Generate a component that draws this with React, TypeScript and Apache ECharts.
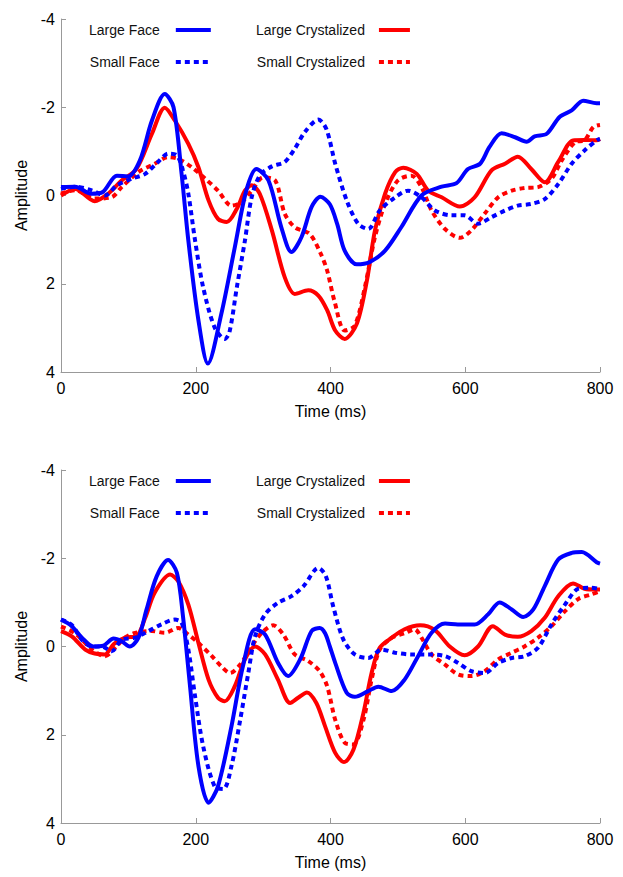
import React, { useEffect, useRef } from "react";
import * as echarts from "echarts";

// ---- Data (time in ms, amplitude) ----
const topLargeFace: number[][] = [[0,-0.19],[21,-0.2],[45,-0.04],[62,-0.08],[83,-0.45],[99,-0.43],[117,-0.79],[135,-1.7],[154,-2.3],[167,-2.0],[179,-0.49],[189,1.02],[204,2.83],[218,3.81],[238,2.68],[258,1.17],[275,-0.11],[290,-0.6],[308,-0.34],[327,0.72],[342,1.28],[357,0.94],[372,0.26],[385,0.03],[399,0.2],[410,0.65],[421,1.25],[439,1.56],[458,1.51],[481,1.25],[505,0.72],[535,0],[565,-0.2],[587,-0.28],[604,-0.6],[622,-0.72],[636,-1.1],[654,-1.41],[674,-1.32],[691,-1.22],[703,-1.34],[721,-1.4],[740,-1.78],[758,-1.93],[775,-2.15],[795,-2.09],[800,-2.09]];
const topLargeCryst: number[][] = [[0,0],[21,-0.15],[50,0.13],[70,-0.04],[90,-0.34],[112,-0.6],[135,-1.4],[154,-1.99],[169,-1.7],[189,-1.17],[204,-0.64],[219,0.11],[233,0.53],[246,0.6],[261,0.3],[273,-0.11],[283,-0.23],[295,-0.04],[313,0.79],[332,1.85],[347,2.23],[367,2.15],[382,2.27],[395,2.6],[407,3.06],[421,3.25],[439,2.91],[454,1.93],[466,0.79],[481,-0.04],[496,-0.53],[508,-0.63],[528,-0.49],[545,-0.11],[565,0.04],[592,0.25],[614,0.04],[639,-0.57],[659,-0.72],[678,-0.88],[698,-0.6],[718,-0.3],[738,-0.76],[760,-1.25],[777,-1.26],[795,-1.25],[800,-1.28]];
const topSmallFace: number[][] = [[0,-0.15],[21,-0.2],[45,-0.12],[65,0],[83,-0.23],[105,-0.38],[125,-0.49],[144,-0.76],[159,-0.95],[172,-0.91],[181,-0.57],[189,-0.04],[199,1.02],[211,2.08],[228,2.99],[243,3.25],[250,3.1],[261,2.08],[273,1.02],[283,0.04],[295,-0.45],[313,-0.66],[332,-0.76],[347,-1.06],[362,-1.44],[382,-1.72],[394,-1.5],[407,-0.72],[424,0.11],[441,0.64],[456,0.76],[473,0.34],[496,0.04],[515,-0.11],[535,0.04],[555,0.34],[580,0.45],[599,0.45],[619,0.64],[639,0.49],[659,0.34],[678,0.23],[698,0.19],[718,0.08],[738,-0.26],[758,-0.72],[777,-1.02],[795,-1.25],[800,-1.28]];
const topSmallCryst: number[][] = [[0,-0.04],[21,-0.12],[50,0.07],[75,0.04],[90,-0.19],[115,-0.53],[139,-0.72],[159,-0.87],[174,-0.83],[194,-0.64],[214,-0.38],[233,-0.11],[253,0.23],[268,0.15],[283,-0.11],[300,-0.41],[318,-0.34],[332,0.41],[347,0.72],[369,0.87],[385,1.3],[395,1.7],[406,2.4],[421,3.06],[436,2.95],[451,2.08],[466,0.94],[481,0.19],[500,-0.34],[520,-0.45],[535,-0.19],[550,0.34],[570,0.76],[592,0.96],[609,0.79],[629,0.41],[649,0.04],[669,-0.11],[688,-0.17],[708,-0.19],[728,-0.38],[743,-0.79],[763,-1.21],[777,-1.25],[790,-1.55],[800,-1.6]];

const botLargeFace: number[][] = [[0,-0.61],[16,-0.46],[31,-0.2],[48,0],[63,-0.02],[78,-0.18],[90,-0.12],[102,0],[115,-0.2],[127,-0.84],[142,-1.59],[159,-1.96],[172,-1.67],[181,-0.69],[191,0.82],[204,2.71],[219,3.54],[233,3.17],[253,1.81],[270,0.45],[288,-0.39],[303,-0.27],[322,0.37],[337,0.67],[355,0.29],[372,-0.35],[384,-0.42],[392,-0.3],[399,0],[407,0.37],[424,1.05],[436,1.14],[456,1.01],[471,0.91],[491,1.01],[510,0.75],[530,0.22],[550,-0.31],[570,-0.52],[589,-0.5],[614,-0.5],[634,-0.73],[651,-1.0],[669,-0.84],[686,-0.67],[701,-0.84],[718,-1.37],[738,-1.97],[758,-2.12],[773,-2.14],[795,-1.91],[800,-1.88]];
const botLargeCryst: number[][] = [[0,-0.35],[16,-0.23],[36,0.07],[50,0.16],[65,0.18],[78,-0.05],[95,-0.2],[112,-0.23],[125,-0.65],[139,-1.22],[162,-1.63],[174,-1.48],[189,-0.95],[204,-0.08],[219,0.75],[233,1.16],[243,1.24],[258,0.9],[273,0.29],[288,0],[303,0.18],[322,0.75],[340,1.28],[352,1.16],[365,1.04],[379,1.28],[392,1.81],[407,2.41],[420,2.62],[434,2.34],[449,1.5],[461,0.6],[473,0.03],[491,-0.2],[510,-0.39],[533,-0.48],[555,-0.37],[577,0],[599,0.2],[619,0],[641,-0.46],[659,-0.27],[678,-0.22],[698,-0.35],[718,-0.65],[738,-1.14],[760,-1.43],[777,-1.31],[795,-1.29],[800,-1.29]];
const botSmallFace: number[][] = [[0,-0.61],[16,-0.49],[31,-0.15],[46,0],[61,0],[75,0.11],[90,-0.15],[110,-0.2],[130,-0.35],[149,-0.5],[169,-0.61],[179,-0.54],[189,0.07],[199,1.13],[211,2.26],[228,3.17],[241,3.23],[253,2.71],[266,1.66],[278,0.6],[288,-0.23],[303,-0.73],[322,-0.99],[342,-1.14],[360,-1.37],[382,-1.78],[393,-1.6],[404,-0.91],[419,-0.16],[436,0.18],[456,0.26],[476,0.07],[496,0.14],[520,0.18],[545,0.18],[570,0.22],[589,0.37],[609,0.56],[629,0.6],[649,0.37],[669,0.26],[688,0.22],[708,0.03],[728,-0.5],[748,-0.95],[768,-1.31],[787,-1.33],[800,-1.3]];
const botSmallCryst: number[][] = [[0,-0.45],[21,-0.3],[46,0.07],[65,0.22],[82,0],[95,-0.2],[110,-0.31],[135,-0.35],[154,-0.31],[174,-0.42],[189,-0.27],[204,-0.08],[224,0.22],[238,0.45],[251,0.6],[266,0.41],[283,0],[298,-0.31],[315,-0.48],[330,-0.27],[347,0.18],[367,0.33],[384,0.56],[395,0.9],[407,1.66],[421,2.18],[434,2.22],[449,1.66],[461,0.75],[473,0.07],[491,-0.2],[510,-0.3],[525,-0.39],[535,-0.2],[550,0.18],[570,0.41],[589,0.63],[609,0.67],[629,0.56],[649,0.29],[669,0.14],[688,0],[708,-0.2],[728,-0.46],[748,-0.8],[768,-1.08],[787,-1.18],[800,-1.25]];

const seriesNames = ["Large Face", "Small Face", "Large Crystalized", "Small Crystalized"];
const xTicks = { min: 0, max: 800, interval: 200 };
const yTicks = { min: -4, max: 4, interval: 2 };

const FONT = "'Liberation Sans', Arial, sans-serif";
const BLUE = "#0000ff";
const RED = "#ff0000";
const DOT = [5, 4];

export default function App() {
  const ref = useRef<HTMLDivElement>(null);
  useEffect(() => {
    if (!ref.current) return;
    const chart = echarts.init(ref.current, undefined, { renderer: "svg" });
    const grids = [
      { left: 61, top: 19, width: 539, height: 353 },
      { left: 61, top: 470, width: 539, height: 353 },
    ];
    const axisLineStyle = { color: "#999", width: 1 };
    const xAxis = grids.map((_, i) => ({
      type: "value",
      gridIndex: i,
      ...xTicks,
      name: "Time (ms)",
      nameLocation: "middle",
      nameGap: 31,
      nameTextStyle: { fontSize: 16, color: "#000", fontFamily: FONT },
      axisLine: { show: true, onZero: false, lineStyle: axisLineStyle },
      axisTick: { show: true, inside: true, length: 5, lineStyle: { color: "#999" } },
      axisLabel: { fontSize: 16, color: "#000", fontFamily: FONT, margin: 8 },
      splitLine: { show: false },
    }));
    const yAxis = grids.map((_, i) => ({
      type: "value",
      gridIndex: i,
      inverse: true,
      ...yTicks,
      name: "Amplitude",
      nameLocation: "middle",
      nameGap: 31,
      nameTextStyle: { fontSize: 16, color: "#000", fontFamily: FONT },
      axisLine: { show: true, onZero: false, lineStyle: axisLineStyle },
      axisTick: { show: true, inside: true, length: 5, lineStyle: { color: "#999" } },
      axisLabel: { fontSize: 16, color: "#000", fontFamily: FONT, margin: 6 },
      splitLine: { show: false },
    }));
    const mk = (name: string, data: number[][], gi: number, color: string, dotted: boolean) => ({
      type: "line",
      name,
      xAxisIndex: gi,
      yAxisIndex: gi,
      data,
      smooth: 0.3,
      symbol: "none",
      lineStyle: { color, width: 4, type: dotted ? DOT : "solid", cap: "butt" },
      itemStyle: { color },
    });
    const series = [
      mk(seriesNames[3], topSmallCryst, 0, RED, true),
      mk(seriesNames[2], topLargeCryst, 0, RED, false),
      mk(seriesNames[1], topSmallFace, 0, BLUE, true),
      mk(seriesNames[0], topLargeFace, 0, BLUE, false),
      mk(seriesNames[3], botSmallCryst, 1, RED, true),
      mk(seriesNames[2], botLargeCryst, 1, RED, false),
      mk(seriesNames[1], botSmallFace, 1, BLUE, true),
      mk(seriesNames[0], botLargeFace, 1, BLUE, false),
    ];
    const legendBase = {
      orient: "vertical",
      align: "right",
      padding: 0,
      itemGap: 18,
      itemHeight: 14,
      selectedMode: false,
      lineStyle: { width: 4 },
      itemStyle: { opacity: 0, borderWidth: 0 },
      textStyle: { fontSize: 14, color: "#111", fontFamily: FONT },
    };
    const legend = [23, 474].flatMap((top) => [
      { ...legendBase, left: 89, top, itemWidth: 35, data: [seriesNames[0], seriesNames[1]],
        textStyle: { ...legendBase.textStyle, padding: [0, 11, 0, 0] } },
      { ...legendBase, left: 256, top, itemWidth: 31, data: [seriesNames[2], seriesNames[3]],
        textStyle: { ...legendBase.textStyle, padding: [0, 9, 0, 0] } },
    ]);
    chart.setOption({
      animation: false,
      backgroundColor: "#fff",
      grid: grids,
      xAxis,
      yAxis,
      legend,
      series,
    } as any);
    return () => chart.dispose();
  }, []);
  return (
    <div
      ref={ref}
      style={{ position: "fixed", left: 0, top: 0, width: 623, height: 877 }}
    />
  );
}
